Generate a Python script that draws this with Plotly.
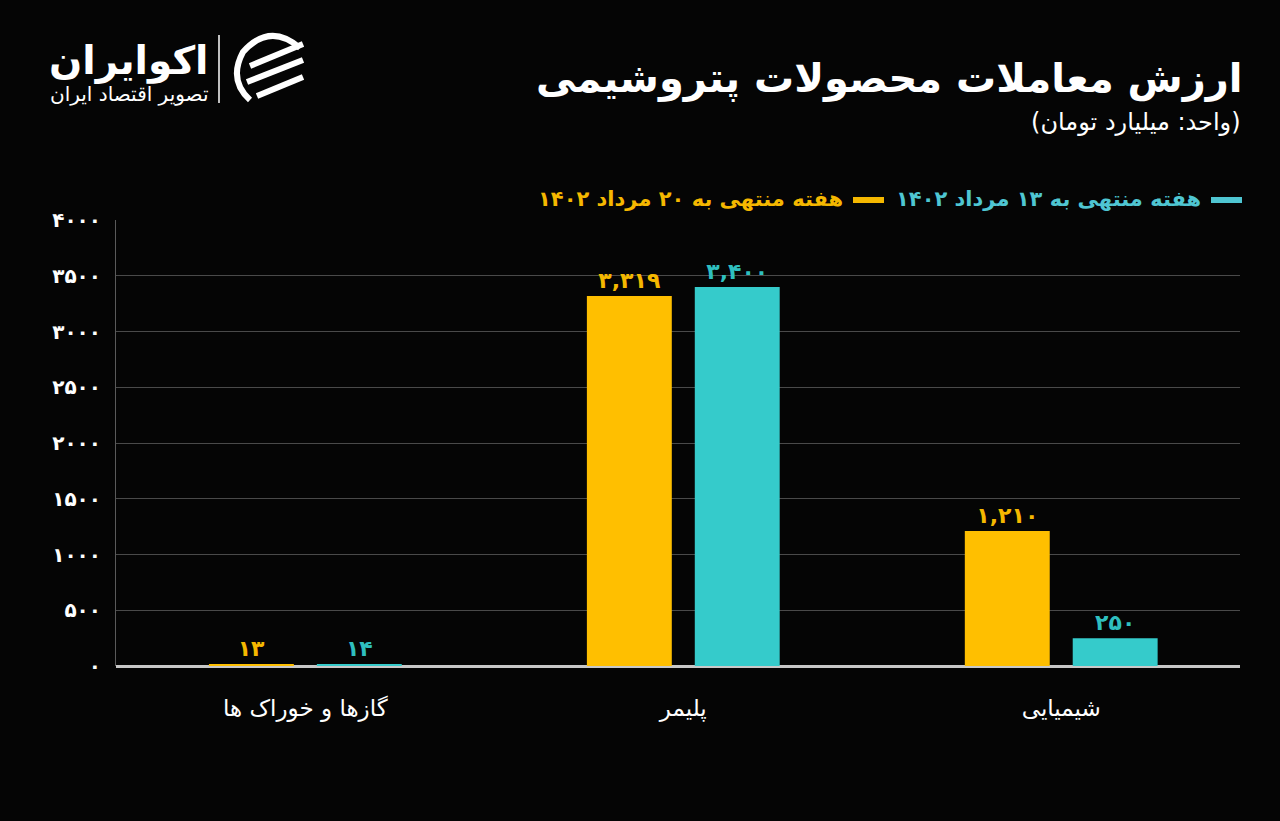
import plotly.graph_objects as go

# ---------------- data ----------------
categories = ["گازها و خوراک ها", "پلیمر", "شیمیایی"]
week_20_mordad = [13, 3319, 1210]   # yellow series
week_13_mordad = [14, 3400, 250]    # cyan series
series_names = ["هفته منتهی به ۲۰ مرداد ۱۴۰۲", "هفته منتهی به ۱۳ مرداد ۱۴۰۲"]
y_tick_values = [0, 500, 1000, 1500, 2000, 2500, 3000, 3500, 4000]

title_text = "ارزش معاملات محصولات پتروشیمی"
subtitle_text = "(واحد: میلیارد تومان)"
logo_text = "اکوایران"
logo_sub = "تصویر اقتصاد ایران"

YELLOW = "#FFBF00"
CYAN = "#35CBCB"
BG = "#050505"

FA_DIGITS = str.maketrans("0123456789", "۰۱۲۳۴۵۶۷۸۹")


def fa(n, sep=True):
    s = f"{n:,}" if sep else str(n)
    return s.translate(FA_DIGITS)


# plot area in pixels
W, H = 1280, 821
L, R, T, B = 116, 40, 220, 155
PW = W - L - R
PH = H - T - B


def px(x):
    return (x - L) / PW


def py(y):
    return (H - B - y) / PH


FONT = "DejaVu Sans"

fig = go.Figure()
fig.add_trace(go.Bar(
    x=categories, y=week_20_mordad, name=series_names[0],
    marker=dict(color=YELLOW, line=dict(width=0)),
    text=[fa(v) for v in week_20_mordad], textposition="outside",
    textfont=dict(color="#F5B800", size=22, family=FONT, weight="bold"),
    cliponaxis=False, showlegend=False,
))
fig.add_trace(go.Bar(
    x=categories, y=week_13_mordad, name=series_names[1],
    marker=dict(color=CYAN, line=dict(width=0)),
    text=[fa(v) for v in week_13_mordad], textposition="outside",
    textfont=dict(color="#2FBFBF", size=22, family=FONT, weight="bold"),
    cliponaxis=False, showlegend=False,
))

annotations = [
    dict(x=px(1245), y=py(78), xref="paper", yref="paper", xanchor="right", yanchor="middle",
         text=f"<b>{title_text}</b>", showarrow=False,
         font=dict(size=40, color="white", family=FONT)),
    dict(x=px(1243), y=py(122), xref="paper", yref="paper", xanchor="right", yanchor="middle",
         text=subtitle_text, showarrow=False,
         font=dict(size=24, color="white", family=FONT)),
    # legend texts (RTL layout)
    dict(x=px(1203), y=py(199), xref="paper", yref="paper", xanchor="right", yanchor="middle",
         text=f"<b>{series_names[1]}</b>", showarrow=False,
         font=dict(size=21, color="#4FC6D2", family=FONT)),
    dict(x=px(845), y=py(199), xref="paper", yref="paper", xanchor="right", yanchor="middle",
         text=f"<b>{series_names[0]}</b>", showarrow=False,
         font=dict(size=21, color="#F5B800", family=FONT)),
    # logo
    dict(x=px(210), y=py(61), xref="paper", yref="paper", xanchor="right", yanchor="middle",
         text=f"<b>{logo_text}</b>", showarrow=False,
         font=dict(size=39, color="white", family=FONT)),
    dict(x=px(210), y=py(94), xref="paper", yref="paper", xanchor="right", yanchor="middle",
         text=logo_sub, showarrow=False,
         font=dict(size=20, color="white", family=FONT)),
]

shapes = [
    # legend swatches
    dict(type="line", xref="paper", yref="paper", x0=px(1211), x1=px(1242), y0=py(200), y1=py(200),
         line=dict(color="#4FC6D2", width=6)),
    dict(type="line", xref="paper", yref="paper", x0=px(853), x1=px(884), y0=py(200), y1=py(200),
         line=dict(color="#F5B800", width=6)),
    # logo separator & icon
    dict(type="line", xref="paper", yref="paper", x0=px(219), x1=px(219), y0=py(35), y1=py(103),
         line=dict(color="white", width=1.5)),
    dict(type="path", xref="paper", yref="paper",
         path=(f"M {px(300)},{py(48)} Q {px(270)},{py(22)} {px(243)},{py(52)} "
               f"Q {px(228)},{py(80)} {px(250)},{py(100)}"),
         line=dict(color="white", width=6)),
    dict(type="line", xref="paper", yref="paper", x0=px(250), x1=px(303), y0=py(66), y1=py(44),
         line=dict(color="white", width=6)),
    dict(type="line", xref="paper", yref="paper", x0=px(247), x1=px(303), y0=py(82), y1=py(60),
         line=dict(color="white", width=6)),
    dict(type="line", xref="paper", yref="paper", x0=px(257), x1=px(303), y0=py(96), y1=py(77),
         line=dict(color="white", width=6)),
]

fig.update_layout(
    width=W, height=H,
    margin=dict(l=L, r=R, t=T, b=B, autoexpand=False),
    paper_bgcolor=BG, plot_bgcolor=BG,
    barmode="group", bargap=0.429, bargroupgap=0.213,
    font=dict(family=FONT, color="white"),
    annotations=annotations, shapes=shapes,
    showlegend=False,
)
fig.update_xaxes(
    range=[-0.501, 2.473],
    showgrid=False, showline=False, ticks="", zeroline=False,
    tickfont=dict(size=23, color="white", family=FONT),
    ticklabelstandoff=26,
)
fig.update_yaxes(
    range=[0, 4000], tickvals=y_tick_values,
    ticktext=[fa(v, sep=False) for v in y_tick_values],
    tickfont=dict(size=20, color="white", family=FONT, weight="bold"),
    showgrid=True, gridcolor="#4a4a4a", gridwidth=1,
    showline=True, linecolor="#5a5a5a", linewidth=1,
    zeroline=True, zerolinecolor="#c8c8c8", zerolinewidth=3,
    ticks="", ticklabelstandoff=10,
)

fig.write_html(
    "out.html",
    config={"displayModeBar": False},
    post_script="document.body.style.margin='0';document.body.style.background='#050505';",
)
